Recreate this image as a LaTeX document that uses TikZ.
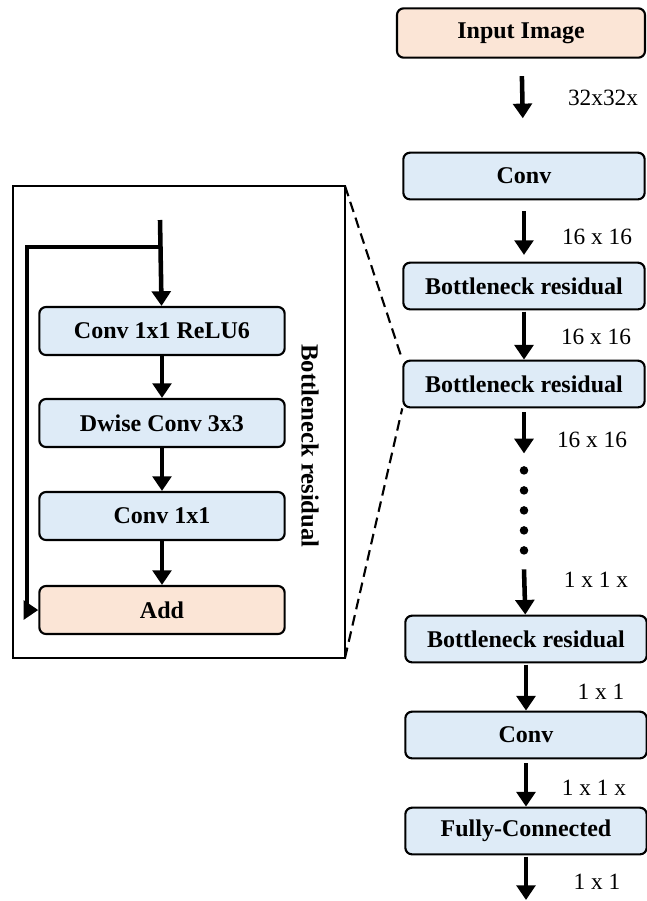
\documentclass[tikz,border=0pt]{standalone}
\usepackage{fontspec}
\setmainfont{Liberation Serif}
\usetikzlibrary{arrows.meta, positioning, calc}
\usepackage{xcolor}
\definecolor{layerblue}{HTML}{DEEBF7}
\definecolor{layerpeach}{HTML}{FBE5D6}

\tikzset{
	layer/.style={draw=black, line width=1.6pt, rounded corners=5pt, fill=layerblue,
		minimum width=181pt, minimum height=35pt, inner sep=0pt,
		font=\bfseries\fontsize{18}{20}\selectfont},
	blocklayer/.style={layer, minimum width=184pt, minimum height=36pt},
	peach/.style={fill=layerpeach},
	flow/.style={line width=3.4pt, -{Triangle[width=14pt, length=11pt]}},
	dimlabel/.style={font=\fontsize{17.5}{20}\selectfont, inner sep=0pt},
}

\begin{document}
\begin{tikzpicture}[x=0.75pt, y=-0.75pt]
	\useasboundingbox (0,0) rectangle (647,901);
	% main column
	\node[layer, peach, minimum width=186pt, minimum height=37pt] (input) at (521,33) {Input Image};
	\node[layer] (conv1) at (524,176) {Conv};
	\node[layer] (bneck1) at (524,286) {Bottleneck residual};
	\node[layer] (bneck2) at (524,384) {Bottleneck residual};
	\node[layer] (bneck3) at (526,639) {Bottleneck residual};
	\node[layer] (conv2) at (526,735) {Conv};
	\node[layer] (fc) at (526,831) {Fully-Connected};
	\coordinate (out) at (526,900);
	% arrows and sizes
	\draw[flow, shorten <=13pt, shorten >=25pt] (input) -- (conv1);
	\draw[flow, shorten <=8pt, shorten >=5pt] (conv1) -- (bneck1);
	\draw[flow, shorten <=1pt] (bneck1) -- (bneck2);
	\draw[flow, shorten <=3pt] (bneck2.south) -- ++(0,45) coordinate (dotstop);
	\foreach \k in {0,...,4}
		\fill ($(dotstop)+(0,17+20*\k)$) circle (3.2pt);
	\draw[flow] ($(dotstop)+(0,116)$) coordinate (dotsend) -- (bneck3);
	\draw[flow, shorten <=1pt] (bneck3) -- (conv2);
	\draw[flow, shorten <=3pt] (conv2) -- (fc);
	\draw[flow, shorten <=1pt] (fc) -- (out);
	\node[dimlabel] (d1) at (603,98) {32x32x};
	\node[dimlabel] (d2) at (597,237) {16 x 16};
	\node[dimlabel] (d3) at (596,337) {16 x 16};
	\node[dimlabel] (d4) at (592,440) {16 x 16};
	\node[dimlabel] (d5) at (596,580) {1 x 1 x};
	\node[dimlabel] (d6) at (601,692) {1 x 1};
	\node[dimlabel] (d7) at (594,788) {1 x 1 x};
	\node[dimlabel] (d8) at (597,882) {1 x 1};
	% zoomed bottleneck block
	\draw[line width=1.7pt] (13,186) rectangle (345,658);
	\coordinate (frameNE) at (345,186);
	\coordinate (frameSE) at (345,658);
	\node[blocklayer] (c1x1a) at (162,331) {Conv  1x1 ReLU6};
	\node[blocklayer] (dwise) at (162,423) {Dwise Conv  3x3};
	\node[blocklayer] (c1x1b) at (162,516) {Conv  1x1};
	\node[blocklayer, peach] (add) at (162,610) {Add};
	\node[rotate=-90, font=\bfseries\fontsize{18.5}{20}\selectfont, inner sep=0pt] (blocktitle) at (310,446) {Bottleneck residual};
	\coordinate (entry) at (160,220);
	\coordinate (split) at (160,247);
	\draw[flow] (entry) -- (c1x1a);
	\draw[flow] (c1x1a) -- (dwise);
	\draw[flow] (dwise) -- (c1x1b);
	\draw[flow] (c1x1b) -- (add);
	\draw[flow] (split) -- (27,247) |- (add.west);
	% dashed zoom lines
	\draw[line width=1.6pt, dash pattern=on 8pt off 4.5pt] (frameNE) -- (bneck2.north west);
	\draw[line width=1.6pt, dash pattern=on 8pt off 4.5pt] (frameSE) -- (bneck2.south west);
\end{tikzpicture}
\end{document}
